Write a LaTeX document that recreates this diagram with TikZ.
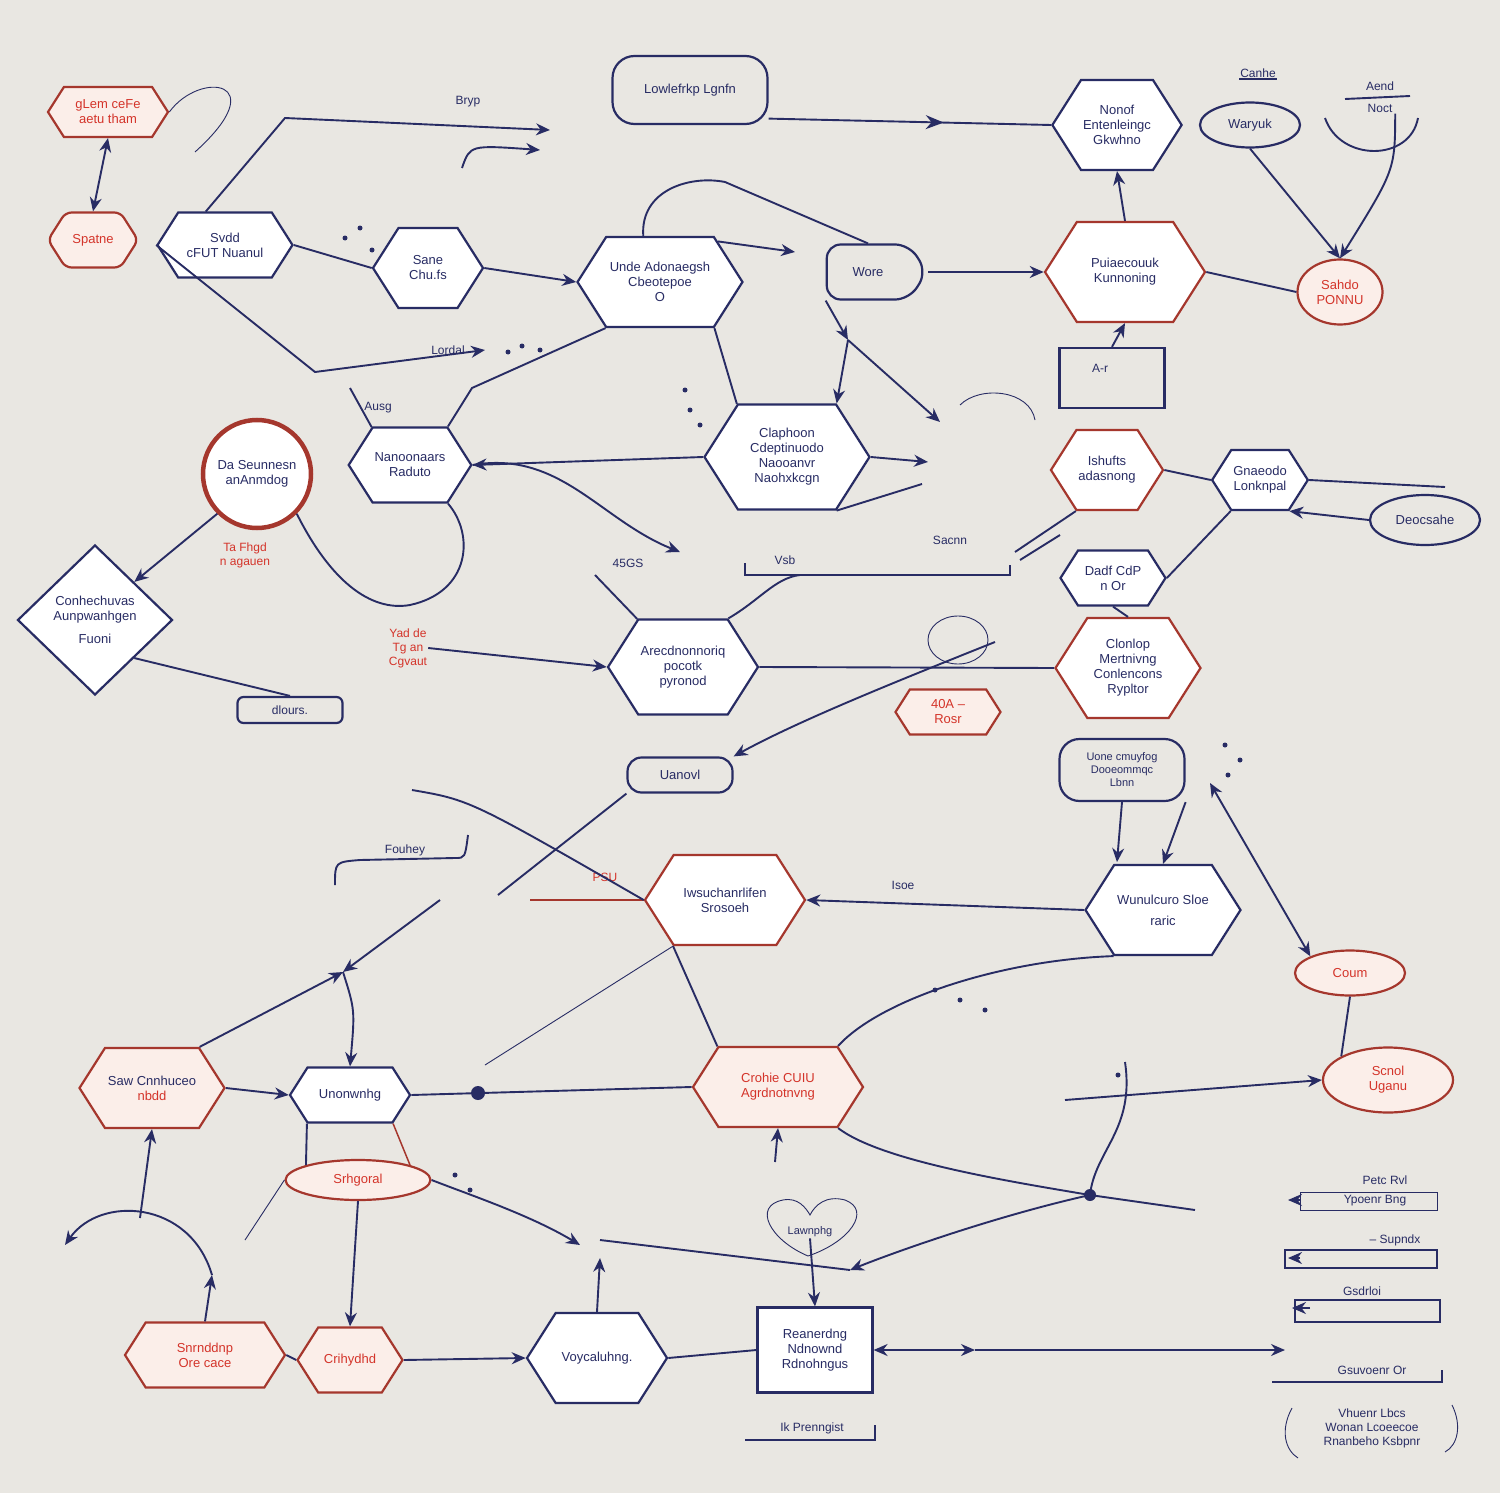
\documentclass[tikz,border=0pt]{standalone}
\usepackage{fontspec}
\setmainfont{Liberation Sans}
\usetikzlibrary{shapes.geometric,shapes.symbols,shapes.misc,arrows.meta,decorations.markings,calc}
\definecolor{bg}{RGB}{233,231,226}
\definecolor{navy}{RGB}{40,44,100}
\definecolor{redb}{RGB}{165,55,45}
\definecolor{redt}{RGB}{212,52,42}
\definecolor{pinkf}{RGB}{251,238,233}
\tikzset{
 base/.style={line width=2.2pt, align=center, inner sep=2pt, font=\fontsize{13}{15}\selectfont},
 sz/.style 2 args={minimum width=#1pt, minimum height=#2pt},
 hexw/.style={base, signal, signal to=east and west, signal pointer angle=115, draw=navy, fill=white, text=navy},
 hexr/.style={base, signal, signal to=east and west, signal pointer angle=115, draw=redb, fill=pinkf, text=redt},
 hexm/.style={base, signal, signal to=east and west, signal pointer angle=115, draw=redb, fill=white, text=navy},
 ovr/.style={base, ellipse, draw=redb, fill=pinkf, text=redt},
 boxw/.style={base, rectangle, draw=navy, fill=white, text=navy},
 lbl/.style={font=\fontsize{12}{14}\selectfont, text=navy, align=center, inner sep=1pt},
 rlbl/.style={font=\fontsize{12}{14}\selectfont, text=redt, align=center, inner sep=1pt},
 conn/.style={draw=navy, line width=1.9pt},
 thinc/.style={draw=navy, line width=0.9pt},
 arr/.style={conn, -{Stealth[length=14pt,width=12pt]}},
 darr/.style={conn, {Stealth[length=14pt,width=12pt]}-{Stealth[length=14pt,width=12pt]}},
 midarr/.style={conn, postaction={decorate}, decoration={markings, mark=at position #1 with {\arrow{Stealth[length=18pt,width=14pt]}}}},
}
\begin{document}
\begin{tikzpicture}[x=1pt,y=-1pt,color=navy]
\fill[bg] (0,0) rectangle (1500,1493);
\useasboundingbox (0,0) rectangle (1500,1493);

% ---------------- nodes ----------------
\node[hexr, sz={120}{50}] (n1) at (108,112) {gLem ceFe\\aetu tham};
\node[hexr, sz={90}{55}, rounded corners=6pt] (n2) at (93,240) {Spatne};
\node[hexw, sz={135}{65}] (n3) at (225,245) {Svdd\\cFUT Nuanul};
\node[hexw, sz={110}{80}] (n4) at (428,268) {Sane\\Chu.fs};
\node[hexw, sz={165}{90}] (n5) at (660,282) {Unde Adonaegsh\\Cbeotepoe\\O};
\node[base, rectangle, rounded corners=22pt, draw=navy, sz={155}{68}] (n6) at (690,90) {Lowlefrkp Lgnfn};
\node[base, signal, signal to=east, signal pointer angle=115, draw=navy, rounded corners=14pt, sz={100}{55}] (n7) at (868,272) {Wore};
\node[hexw, sz={120}{90}] (n8) at (1117,125) {Nonof\\Entenleingc\\Gkwhno};
\node[base, ellipse, draw=navy, sz={100}{45}] (n9) at (1250,125) {Waryuk};
\node[lbl] (l1) at (1258,73) {Canhe};
\node[lbl] (n10) at (1380,97) {Aend\\[8pt]Noct};
\node[hexm, sz={160}{100}] (n11) at (1125,272) {Puiaecouuk\\Kunnoning};
\node[ovr, sz={85}{65}] (n12) at (1340,292) {Sahdo\\PONNU};
\node[base, rectangle, draw=navy, sz={105}{60}] (n13) at (1112,378) {};
\node[lbl] (l2) at (1100,368) {A-r};
\node[base, circle, draw=redb, line width=4.5pt, fill=white, text=navy, minimum size=108pt] (n14) at (257,474) {Da Seunnesn\\anAnmdog};
\node[hexw, sz={115}{75}] (n15) at (410,465) {Nanoonaars\\Raduto};
\node[hexw, sz={165}{105}] (n16) at (787,457) {Claphoon\\Cdeptinuodo\\Naooanvr\\Naohxkcgn};
\node[hexm, sz={110}{80}] (n17) at (1107,470) {Ishufts\\adasnong};
\node[hexw, sz={95}{60}] (n18) at (1260,480) {Gnaeodo\\Lonknpal};
\node[base, ellipse, draw=navy, sz={110}{50}] (n19) at (1425,520) {Deocsahe};
\node[base, diamond, draw=navy, fill=white, text=navy, inner sep=0pt, sz={155}{150}] (n20) at (95,620) {Conhechuvas\\Aunpwanhgen\\[8pt]Fuoni};
\node[rlbl] (n21) at (245,555) {Ta Fhgd\\n agauen};
\node[rlbl] (n22) at (408,648) {Yad de\\Tg an\\Cgvaut};
\node[base, rectangle, rounded corners=6pt, draw=navy, sz={105}{26}, font=\fontsize{12}{14}\selectfont] (n23) at (290,710) {dlours.};
\node[hexw, sz={150}{95}] (n24) at (683,667) {Arecdnonnoriq\\pocotk\\pyronod};
\node[hexw, sz={105}{55}] (n25) at (1113,578) {Dadf CdP\\n Or};
\node[hexm, sz={145}{100}] (n26) at (1128,668) {Clonlop\\Mertnivng\\Conlencons\\Rypltor};
\node[hexr, sz={105}{45}] (n27) at (948,712) {40A --\\Rosr};
\node[base, rectangle, rounded corners=14pt, draw=navy, sz={105}{35}] (n28) at (680,775) {Uanovl};
\node[base, rectangle, rounded corners=20pt, draw=navy, sz={125}{62}, font=\fontsize{11}{13}\selectfont] (n29) at (1122,770) {Uone cmuyfog\\Dooeommqc\\Lbnn};
\node[hexm, sz={160}{90}] (n30) at (725,900) {Iwsuchanrlifen\\Srosoeh};
\node[hexw, sz={155}{90}] (n31) at (1163,910) {Wunulcuro Sloe\\[6pt]raric};
\node[ovr, sz={110}{45}] (n32) at (1350,973) {Coum};
\node[ovr, sz={130}{65}] (n33) at (1388,1080) {Scnol\\Uganu};
\node[hexr, sz={145}{80}] (n34) at (152,1088) {\textcolor{navy}{Saw Cnnhuceo}\\nbdd};
\node[hexw, sz={120}{55}] (n35) at (350,1095) {Unonwnhg};
\node[hexr, sz={170}{80}] (n36) at (778,1087) {Crohie CUIU\\Agrdnotnvng};
\node[ovr, sz={145}{40}] (n37) at (358,1180) {Srhgoral};
\draw[thinc] (808,1256) .. controls (770,1240) and (752,1206) .. (783,1200) .. controls (798,1197) and (806,1208) .. (810,1215) .. controls (815,1205) and (826,1195) .. (845,1200) .. controls (872,1210) and (850,1242) .. (808,1256);
\node[lbl, font=\fontsize{11}{13}\selectfont] (n38) at (810,1232) {Lawnphg};
\node[hexr, sz={160}{65}] (n39) at (205,1355) {Snrnddnp\\Ore cace};
\node[hexr, sz={105}{65}] (n40) at (350,1360) {Crihydhd};
\node[hexw, sz={140}{90}] (n41) at (597,1358) {Voycaluhng.};
\node[boxw, sz={115}{85}] (n42) at (815,1350) {Reanerdng\\Ndnownd\\Rdnohngus};
\node[lbl] (n43) at (812,1428) {Ik Prenngist};
\node[lbl] (n44) at (1372,1428) {Vhuenr Lbcs\\Wonan Lcoeecoe\\Rnanbeho Ksbpnr};

% labels
\node[lbl] (l3) at (468,102) {Bryp};
\node[lbl] (l4) at (448,350) {Lordal};
\node[lbl] (l5) at (405,850) {Fouhey};
\node[rlbl] (l6) at (605,877) {PSU};
\node[lbl] (l7) at (903,885) {Isoe};
\node[lbl] (l8) at (950,540) {Sacnn};
\node[lbl] (l9) at (785,560) {Vsb};
\node[lbl] (l10) at (628,563) {45GS};
\node[lbl] (l11) at (378,408) {Ausg};
\node[lbl] (g1) at (1385,1180) {Petc Rvl};
\node[lbl] (g1b) at (1375,1201) {Ypoenr Bng};
\node[lbl] (g2) at (1395,1240) {-- Supndx};
\node[lbl] (g3) at (1362,1291) {Gsdrloi};
\node[lbl] (g4) at (1372,1370) {Gsuvoenr Or};

% ---------------- free-end coordinates ----------------
\coordinate (a1) at (285,118);
\coordinate (a2) at (550,130);
\coordinate (b1) at (462,168);
\coordinate (b2) at (540,150);
\coordinate (lp1) at (195,152);
\coordinate (c6a) at (315,372);
\coordinate (c6b) at (485,350);
\coordinate (c8) at (795,252);
\coordinate (c9) at (725,182);
\coordinate (k1) at (848,340);
\coordinate (k2) at (940,422);
\coordinate (m1) at (928,462);
\coordinate (m2) at (922,484);
\coordinate (y15) at (350,388);
\coordinate (y15b) at (472,388);
\coordinate (q1) at (680,552);
\coordinate (q2) at (595,575);
\coordinate (r1) at (995,642);
\coordinate (br1) at (745,575);
\coordinate (br2) at (1010,575);
\coordinate (s1) at (1210,783);
\coordinate (s17) at (1015,552);
\coordinate (t1) at (498,895);
\coordinate (t2) at (412,790);
\coordinate (t3) at (530,900);
\coordinate (u1) at (343,972);
\coordinate (u2) at (440,900);
\coordinate (v1) at (485,1065);
\coordinate (w1) at (775,1162);
\coordinate (x1) at (1090,1195);
\coordinate (x2) at (1195,1210);
\coordinate (y1) at (1065,1100);
\coordinate (y2) at (1125,1062);
\coordinate (z1) at (850,1270);
\coordinate (z2) at (600,1240);
\coordinate (e1) at (580,1245);
\coordinate (aa1) at (212,1275);
\coordinate (aa2) at (65,1245);
\coordinate (ab) at (140,1218);
\coordinate (ac) at (600,1258);
\coordinate (ad) at (975,1350);
\coordinate (ae) at (1285,1350);
\coordinate (f1) at (245,1240);
\coordinate (h1) at (1445,487);

% ---------------- connectors ----------------
\draw[darr] (n1.south) -- (n2.north);
\draw[thinc] (n1.east) .. controls (200,70) and (275,80) .. (lp1);
\draw[arr] (n3.120) -- (a1) -- (a2);
\draw[arr] (b1) .. controls (470,145) .. (b2);
\draw[conn] (n3.east) -- (n4.west);
\draw[arr] (n3.west) -- (c6a) -- (c6b);
\draw[arr] (n4.east) -- (n5.west);
\draw[arr] (n5.35) -- (c8);
\draw[conn] (n5.110) .. controls (640,190) and (690,175) .. (c9) -- (n7.north);
\draw[midarr=0.62] (n6.-20) -- (n8.west);
\draw[arr] (n7.east) -- (n11.west);
\draw[arr] (n11.north) -- (n8.south);
\draw[conn] (n11.east) -- (n12.west);
\draw[arr] (n9.south) -- (n12.north);
\draw[arr] (n10.south east) .. controls (1395,170) .. (n12.north);
\draw[arr] (n13.north) -- (n11.south);
\draw[conn] (n15.north west) -- (y15);
\draw[conn] (n15.north east) -- (y15b) -- (n5.south west);
\draw[conn] (n5.south east) -- (n16.north west);
\draw[arr] (n7.south west) -- (k1);
\draw[arr] (k1) -- (n16.north east);
\draw[arr] (k1) -- (k2);
\draw[arr] (n16.west) -- (n15.east);
\draw[arr] (n16.east) -- (m1);
\draw[conn] (n16.south east) -- (m2);
\draw[arr] (n15.east) .. controls (560,450) and (600,520) .. (q1);
\draw[conn] (q2) -- (n24.north west);
\draw[arr] (n14.south west) -- (n20.north east);
\draw[conn] (n14.south east) .. controls (330,580) and (370,612) .. (410,605) .. controls (470,592) and (475,535) .. (n15.south east);
\draw[conn] (n20.south east) -- (n23.north);
\draw[arr] (n22.east) -- (n24.west);
\draw[conn] (n24.east) -- (n26.west);
\draw[thinc] (958,640) ellipse (30pt and 24pt);
\draw[arr] (r1) .. controls (900,680) and (800,720) .. (n28.north east);
\draw[conn] (n24.north east) .. controls (760,600) and (775,578) .. (800,575);
\draw[conn] ($(br1)+(0,-12)$) -- (br1) -- (br2) -- ($(br2)+(0,-10)$);
\draw[conn] (n17.east) -- (n18.west);
\draw[conn] (n18.east) -- (h1);
\draw[conn] (n18.south west) -- (n25.east);
\draw[conn] (n17.south west) -- (s17);
\draw[arr] (n19.west) -- (n18.south east);
\draw[conn] (n25.south) -- (n26.north);
\draw[arr] (n29.south east) -- (n31.north);
\draw[arr] (n29.south) -- ($(n29.south)+(-5,60)$);
\draw[darr] (s1) -- (n32.north west);
\draw[conn] (n32.south) -- (n33.north west);
\draw[arr] (n31.west) -- (n30.east);
\draw[conn] (n31.south west) .. controls (1000,960) and (880,1000) .. (n36.north east);
\draw[conn] (n30.south west) -- (n36.north west);
\draw[draw=redb, line width=1.5pt] (n30.west) -- (t3);
\draw[conn] (n28.south west) -- (t1);
\draw[conn] (t2) .. controls (470,800) .. (n30.west);
\draw[conn] (335,885) .. controls (335,862) .. (360,860) -- (455,858) .. controls (465,858) .. (468,835);
\draw[arr] (n34.north east) -- (u1);
\draw[arr] (u2) -- (u1);
\draw[arr] (u1) .. controls (355,1010) .. (n35.north);
\draw[arr] (n34.east) -- (n35.west);
\draw[conn] (n35.east) -- (n36.west);
\fill[navy] (478,1093) circle (7pt);
\draw[thinc] (n30.south west) -- (v1);
\draw[arr] (w1) -- (n36.south);
\draw[conn] (n36.south east) .. controls (880,1160) and (1000,1180) .. (x1) -- (x2);
\draw[arr] (y1) -- (n33.west);
\draw[conn] (y2) .. controls (1135,1130) and (1095,1150) .. (x1);
\fill[navy] (x1) circle (6pt);
\draw[arr] (x1) .. controls (1000,1215) and (900,1250) .. (z1);
\draw[conn] (z2) -- (z1);
\draw[arr] (n37.east) .. controls (470,1195) and (530,1215) .. (e1);
\draw[arr] (n37.south) -- (n40.north);
\draw[thinc] (n37.west) -- (f1);
\draw[conn] (n35.south west) -- (n37.north west);
\draw[draw=redb, line width=1.5pt] (n35.south east) -- (n37.north east);
\draw[arr] (aa1) .. controls (190,1200) and (100,1195) .. (aa2);
\draw[arr] (n39.north) -- (aa1);
\draw[arr] (ab) -- (n34.south);
\draw[conn] (n39.east) -- (n40.west);
\draw[arr] (n40.east) -- (n41.west);
\draw[conn] (n41.east) -- (n42.west);
\draw[arr] (n41.north) -- (ac);
\draw[darr] (n42.east) -- (ad);
\draw[arr] (ad) -- (ae);
\draw[arr] (n38.south) -- (n42.north);

% shape details
\draw[conn] (l1.south west) -- (l1.south east);
\draw[conn] (1325,118) .. controls (1340,162) and (1410,162) .. (1418,118);
\draw[conn] (1345,99) -- (1410,96);
\draw[thinc] (960,405) .. controls (980,385) and (1030,390) .. (1035,420);
\draw[conn] (1020,560) -- (1060,535);
% legend
\draw[thinc] (1300,1192) rectangle (1437,1210);
\draw[arr] (1300,1200) -- (1288,1200);
\draw[conn] (1285,1250) rectangle (1437,1268);
\draw[arr] (1300,1258) -- (1288,1258);
\draw[conn] (1295,1300) rectangle (1440,1322);
\draw[arr] (1310,1308) -- (1292,1308);
\draw[conn] (1272,1382) -- (1442,1382) -- (1442,1370);
\draw[conn] (745,1440) -- (875,1440) -- (875,1425);
\draw[thinc] (1292,1408) .. controls (1280,1430) and (1285,1450) .. (1298,1458);
\draw[thinc] (1452,1405) .. controls (1462,1425) and (1458,1445) .. (1445,1452);
% dots
\foreach \p in {(345,238),(360,228),(372,250),(508,352),(522,346),(540,350),(685,390),(690,410),(700,425),(1225,745),(1240,760),(1228,775),(935,990),(960,1000),(985,1010),(455,1175),(470,1190),(1118,1075)}
  \fill[navy] \p circle (2.5pt);
\end{tikzpicture}
\end{document}
